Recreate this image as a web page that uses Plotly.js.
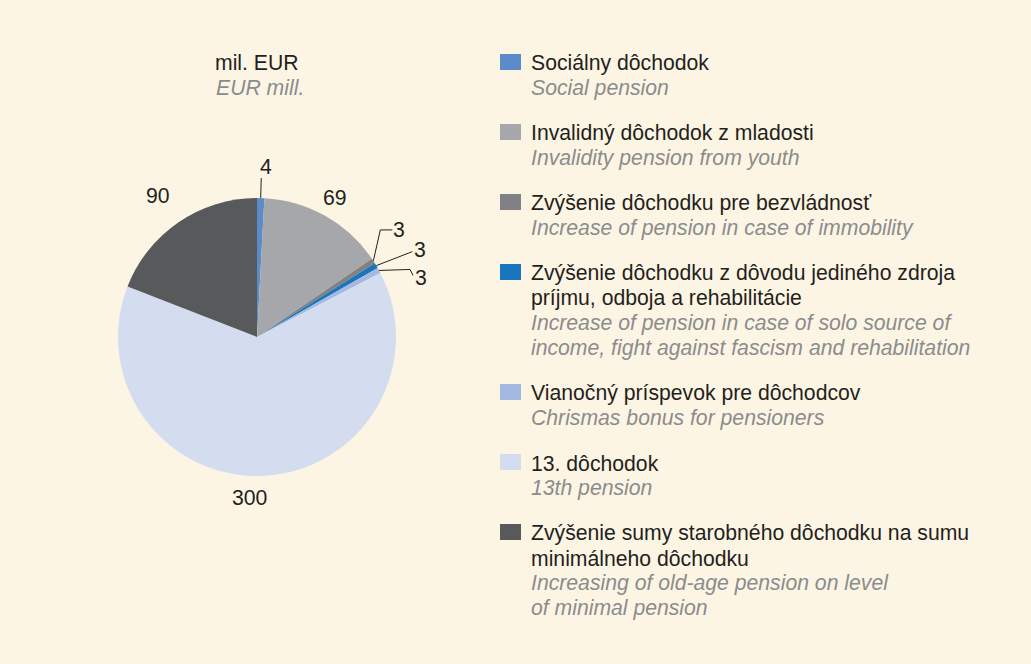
<!DOCTYPE html>
<html>
<head>
<meta charset="utf-8">
<script src="https://cdn.plot.ly/plotly-3.0.1.min.js"></script>
<style>html,body{margin:0;padding:0;background:#fdf5e4;}</style>
</head>
<body>
<div id="chart" style="width:1031px;height:664px;"></div>
<script>
// ---- data ----
const categories = [
  'Sociálny dôchodok',
  'Invalidný dôchodok z mladosti',
  'Zvýšenie dôchodku pre bezvládnosť',
  'Zvýšenie dôchodku z dôvodu jediného zdroja<br>príjmu, odboja a rehabilitácie',
  'Vianočný príspevok pre dôchodcov',
  '13. dôchodok',
  'Zvýšenie sumy starobného dôchodku na sumu<br>minimálneho dôchodku'
];
const categoriesEn = [
  'Social pension',
  'Invalidity pension from youth',
  'Increase of pension in case of immobility',
  'Increase of pension in case of solo source of<br>income, fight against fascism and rehabilitation',
  'Chrismas bonus for pensioners',
  '13th pension',
  'Increasing of old-age pension on level<br>of minimal pension'
];
const values = [4, 69, 3, 3, 3, 300, 90];
const valueLabels = ['4', '69', '3', '3', '3', '300', '90'];
const colors = ['#5b8bc9', '#a6a7aa', '#808184', '#1a75bc', '#a3b9e0', '#d4ddef', '#58595b'];
const unitSk = 'mil. EUR';
const unitEn = 'EUR mill.';

// ---- layout helpers ----
const W = 1031, H = 664;
const px = x => x / W;
const py = y => 1 - y / H;
const CX = 257, CY = 337, R = 139;
const FONT = "'Liberation Sans', Arial, Helvetica, sans-serif";
const BLACK = '#231f20', GRAY = '#8a8c8e';
const FS = 21.2;

// label placement style
const labelStyle = [
  {type: 'stem', r: 171, stemR: 159, dx: 4},
  {type: 'radial', r: 160, dx: 0},
  {type: 'leader', path: [[0, 0], [7, -31], [19, -31]], text: [0, 0]},
  {type: 'leader', path: [[0, 0], [36, -14]], text: [1, -2]},
  {type: 'leader', path: [[0, 0], [31, -1], [34, 5]], text: [1, 2]},
  {type: 'radial', r: 161, dx: -16},
  {type: 'radial', r: 171, dx: -3}
];

const total = values.reduce((a, b) => a + b, 0);
const annotations = [];
const shapes = [];

// pie value labels
let cum = 0;
values.forEach((v, i) => {
  const mid = (cum + v / 2) / total * 2 * Math.PI;
  cum += v;
  const s = Math.sin(mid), c = Math.cos(mid);
  const st = labelStyle[i];
  let tx, ty, xanchor = 'center';
  if (st.type === 'radial' || st.type === 'stem') {
    tx = CX + st.r * s + st.dx;
    ty = CY - st.r * c;
    if (st.type === 'stem') {
      shapes.push({type: 'line', xref: 'paper', yref: 'paper',
        x0: px(CX + R * s), y0: py(CY - R * c), x1: px(CX + st.stemR * s), y1: py(CY - st.stemR * c),
        line: {color: BLACK, width: 1}});
    }
  } else {
    const ex = CX + R * s, ey = CY - R * c;
    const pts = st.path.map(p => [ex + p[0], ey + p[1]]);
    const d = 'M ' + pts.map(p => px(p[0]) + ',' + py(p[1])).join(' L ');
    shapes.push({type: 'path', xref: 'paper', yref: 'paper', path: d,
      line: {color: BLACK, width: 1}});
    const last = pts[pts.length - 1];
    tx = last[0] + st.text[0];
    ty = last[1] + st.text[1];
    xanchor = 'left';
  }
  annotations.push({xref: 'paper', yref: 'paper', x: px(tx), y: py(ty), xanchor: xanchor, yanchor: 'middle',
    text: valueLabels[i], showarrow: false, borderpad: 0, font: {family: FONT, size: FS, color: BLACK}});
});

// unit titles
annotations.push({xref: 'paper', yref: 'paper', x: px(257), y: py(63), xanchor: 'center', yanchor: 'middle',
  text: unitSk, showarrow: false, font: {family: FONT, size: FS, color: BLACK}});
annotations.push({xref: 'paper', yref: 'paper', x: px(260), y: py(88), xanchor: 'center', yanchor: 'middle',
  text: '<i>' + unitEn + '</i>', showarrow: false, font: {family: FONT, size: FS, color: GRAY}});

// legend
const LX = 530, LY0 = 63, LH = 25, LGAP = 20;
let ly = LY0;
categories.forEach((cat, i) => {
  const skLines = cat.split('<br>');
  const enLines = categoriesEn[i].split('<br>');
  shapes.push({type: 'rect', xref: 'paper', yref: 'paper',
    x0: px(500), x1: px(521), y0: py(ly - 9), y1: py(ly + 7),
    fillcolor: colors[i], line: {width: 0}});
  let k = 0;
  skLines.forEach(t => {
    annotations.push({xref: 'paper', yref: 'paper', x: px(LX), y: py(ly + k * LH), xanchor: 'left', yanchor: 'middle',
      text: t, showarrow: false, borderpad: 0, font: {family: FONT, size: FS, color: BLACK}});
    k++;
  });
  enLines.forEach(t => {
    annotations.push({xref: 'paper', yref: 'paper', x: px(LX), y: py(ly + k * LH), xanchor: 'left', yanchor: 'middle',
      text: '<i>' + t + '</i>', showarrow: false, borderpad: 0, font: {family: FONT, size: FS, color: GRAY}});
    k++;
  });
  ly += k * LH + LGAP;
});

const trace = {
  type: 'pie',
  labels: categories,
  values: values,
  marker: {colors: colors, line: {width: 0}},
  sort: false,
  direction: 'clockwise',
  rotation: 0,
  textinfo: 'none',
  hoverinfo: 'label+value',
  showlegend: false,
  domain: {x: [px(CX - R), px(CX + R)], y: [py(CY + R), py(CY - R)]}
};

const layout = {
  width: W, height: H,
  margin: {l: 0, r: 0, t: 0, b: 0},
  paper_bgcolor: '#fdf5e4',
  plot_bgcolor: '#fdf5e4',
  showlegend: false,
  annotations: annotations,
  shapes: shapes,
  font: {family: FONT}
};

Plotly.newPlot('chart', [trace], layout, {displayModeBar: false, staticPlot: true});
</script>
</body>
</html>
